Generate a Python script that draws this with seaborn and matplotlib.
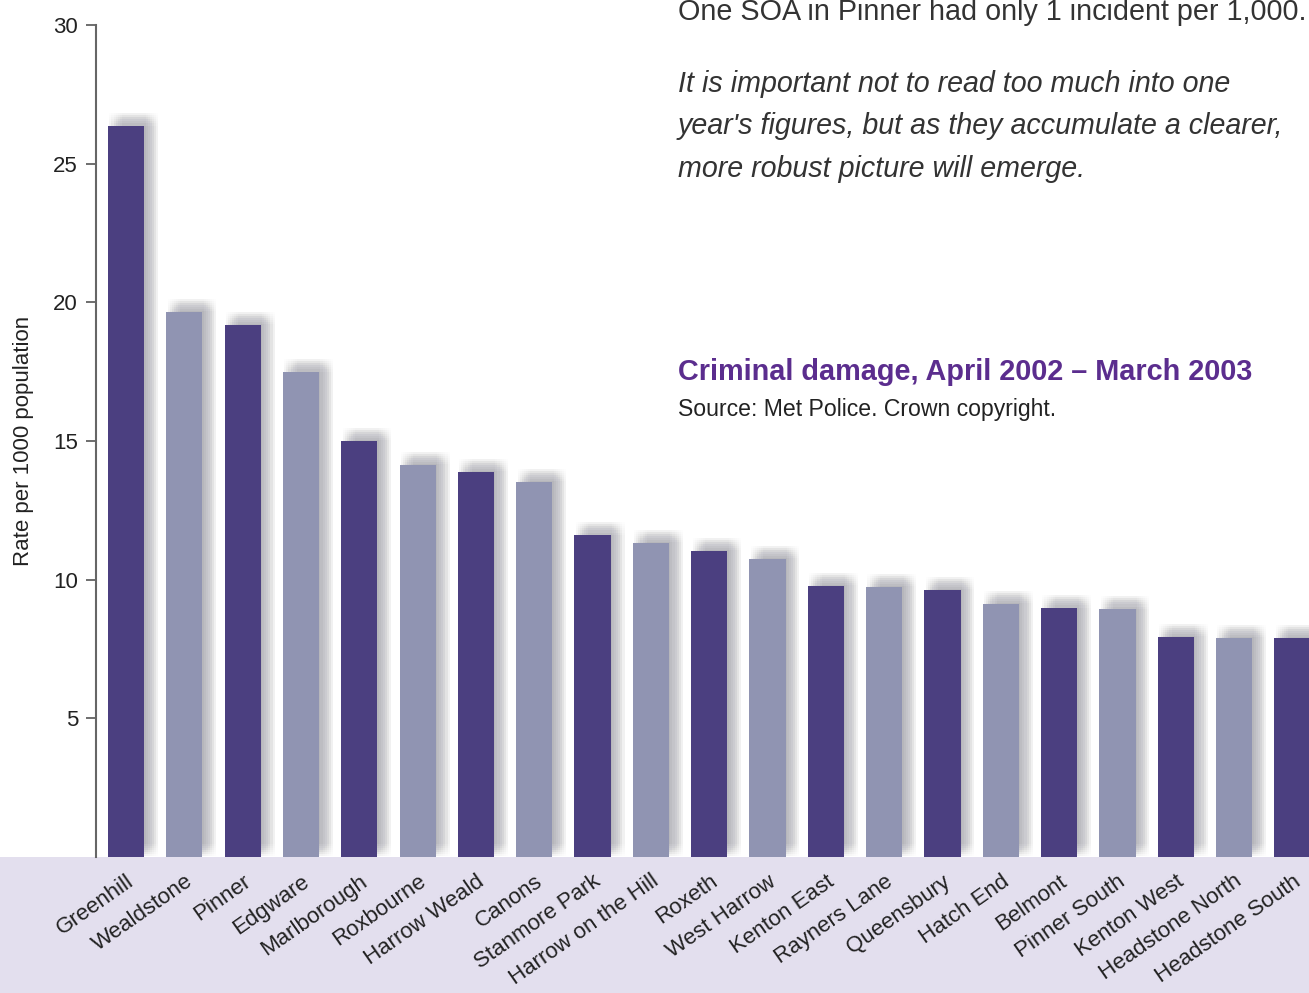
import matplotlib
matplotlib.use("Agg")
import matplotlib.pyplot as plt
import matplotlib.patheffects as pe
from matplotlib.patches import Rectangle
import seaborn as sns

wards = ["Greenhill", "Wealdstone", "Pinner", "Edgware", "Marlborough", "Roxbourne",
         "Harrow Weald", "Canons", "Stanmore Park", "Harrow on the Hill", "Roxeth",
         "West Harrow", "Kenton East", "Rayners Lane", "Queensbury", "Hatch End",
         "Belmont", "Pinner South", "Kenton West", "Headstone North", "Headstone South"]
rates = [26.35, 19.65, 19.18, 17.48, 15.0, 14.13, 13.88, 13.52, 11.6, 11.32, 11.03,
         10.75, 9.77, 9.74, 9.63, 9.12, 8.97, 8.93, 7.93, 7.9, 7.9]
y_ticks = [5, 10, 15, 20, 25, 30]

dark = "#4B3F80"
light = "#9094B2"
colors = [dark if i % 2 == 0 else light for i in range(len(wards))]

sns.set_style("white")
plt.rcParams['font.family'] = ['Liberation Sans', 'DejaVu Sans']

W, H = 1309, 993
fig = plt.figure(figsize=(W / 100, H / 100), dpi=100)
fig.patch.set_facecolor("white")

# lavender band at bottom
fig.patches.append(Rectangle((0, 0), 1, (H - 857) / H, transform=fig.transFigure,
                             facecolor="#E3DFEE", edgecolor="none", zorder=-1))

ax = fig.add_axes([96 / W, (H - 857) / H, (W - 96) / W + 0.002, (857 - 25) / H])
ax.set_facecolor("none")

sns.barplot(x=wards, y=rates, hue=wards, palette=colors, legend=False,
            width=0.62, saturation=1, ax=ax, zorder=3, linewidth=0, edgecolor="none")

# soft drop shadow
effects = []
steps = (-4.5, -3, -1.5, 0, 1.5, 3, 4.5)
for dx in steps:
    for dy in steps:
        effects.append(pe.SimplePatchShadow(offset=(5.5 + dx, 5.0 + dy),
                                            shadow_rgbFace="#50505a", alpha=0.0095))
effects.append(pe.Normal())
for p in ax.patches:
    p.set_path_effects(effects)

ax.set_xlim(-0.515, 20.33)
ax.set_ylim(0, 30)
ax.set_yticks(y_ticks)
ax.set_yticklabels([str(v) for v in y_ticks], fontsize=16, color="#222222")
ax.tick_params(axis="y", direction="out", length=7, width=1.2, color="#555555",
               left=True, pad=6)
ax.tick_params(axis="x", length=0, pad=10)
ax.set_xticks(range(len(wards)))
ax.set_xticklabels(wards, rotation=35, ha="right", va="top", rotation_mode="anchor",
                   fontsize=16, color="#222222")
for s in ["top", "right", "bottom"]:
    ax.spines[s].set_visible(False)
ax.spines["left"].set_color("#666666")
ax.spines["left"].set_linewidth(1.5)
ax.set_xlabel("")
ax.set_ylabel("Rate per 1000 population", fontsize=16, color="#222222", labelpad=14)

def fx(x):
    return x / W

def fy(y):
    return 1 - y / H

fig.text(fx(678), fy(20), "One SOA in Pinner had only 1 incident per 1,000.",
         fontsize=20.7, color="#333333", va="baseline", ha="left")
for i, line in enumerate(["It is important not to read too much into one",
                          "year's figures, but as they accumulate a clearer,",
                          "more robust picture will emerge."]):
    fig.text(fx(678), fy(92 + 42.5 * i), line, fontsize=20.6, style="italic",
             color="#333333", va="baseline", ha="left")
fig.text(fx(678), fy(380), "Criminal damage, April 2002 \u2013 March 2003",
         fontsize=20.8, color="#5B2D8E", va="baseline", ha="left", fontweight="bold")
fig.text(fx(678), fy(416), "Source: Met Police. Crown copyright.",
         fontsize=16.6, color="#222222", va="baseline", ha="left")

fig.savefig("out.png", dpi=100)
